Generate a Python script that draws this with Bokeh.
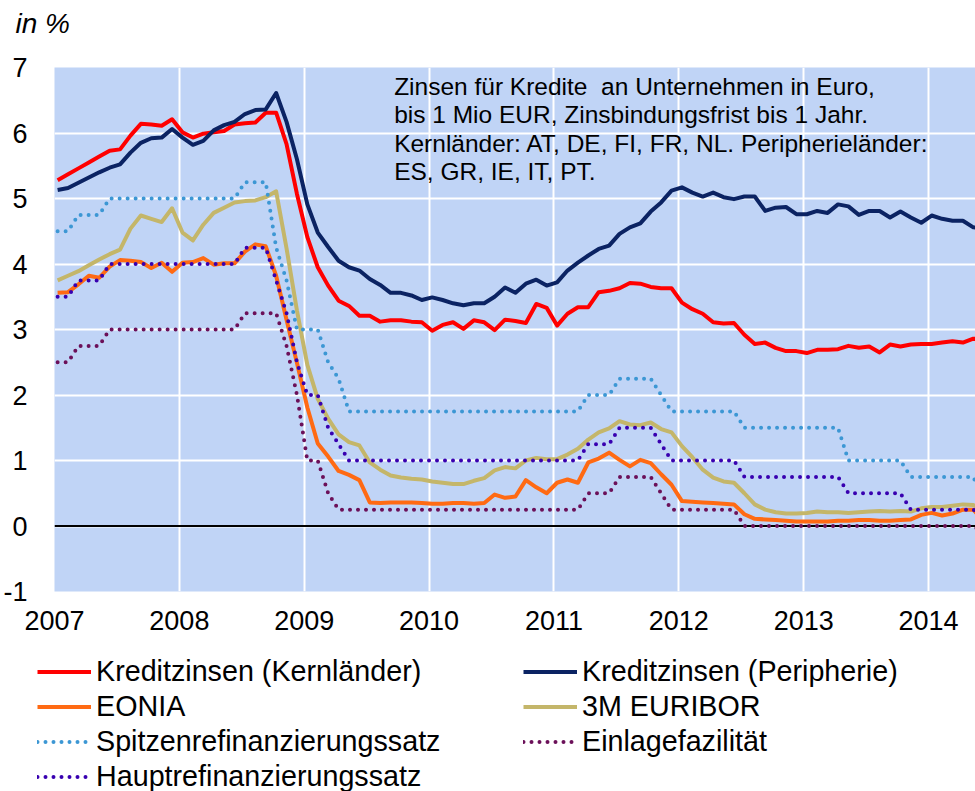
import pandas as pd
from bokeh.plotting import figure
from bokeh.layouts import column
from bokeh.models import (ColumnDataSource, FixedTicker, Span, Legend, LegendItem,
                          Label, Range1d)
from bokeh.embed import file_html
from bokeh.resources import INLINE

# ---------------- data (monthly, Jan 2007 .. Jun 2014) ----------------
months = pd.date_range("2007-01-01", "2014-06-01", freq="MS")

kern = [5.28, 5.37, 5.46, 5.55, 5.64, 5.73, 5.75, 5.96, 6.14, 6.13, 6.11, 6.21,
        6.01, 5.93, 5.99, 6.01, 6.03, 6.13, 6.15, 6.16, 6.31, 6.31, 5.83, 5.07,
        4.41, 3.95, 3.67, 3.44, 3.36, 3.21, 3.21, 3.12, 3.14, 3.14, 3.12, 3.11,
        2.98, 3.07, 3.11, 3.01, 3.14, 3.11, 2.99, 3.15, 3.13, 3.10, 3.39, 3.33,
        3.06, 3.24, 3.34, 3.34, 3.57, 3.59, 3.63, 3.71, 3.70, 3.65, 3.63, 3.63,
        3.41, 3.31, 3.24, 3.11, 3.09, 3.10, 2.92, 2.78, 2.80, 2.72, 2.67, 2.67,
        2.64, 2.69, 2.69, 2.70, 2.75, 2.72, 2.74, 2.65, 2.77, 2.74, 2.77, 2.78,
        2.78, 2.80, 2.82, 2.80, 2.86, 2.84]

peri = [5.13, 5.16, 5.24, 5.32, 5.40, 5.47, 5.52, 5.70, 5.85, 5.92, 5.93, 6.06,
        5.93, 5.82, 5.88, 6.04, 6.12, 6.17, 6.29, 6.35, 6.36, 6.61, 6.17, 5.60,
        4.91, 4.48, 4.26, 4.05, 3.95, 3.90, 3.77, 3.68, 3.56, 3.56, 3.52, 3.45,
        3.49, 3.45, 3.40, 3.37, 3.40, 3.40, 3.50, 3.64, 3.56, 3.70, 3.76, 3.67,
        3.72, 3.90, 4.02, 4.13, 4.23, 4.28, 4.46, 4.56, 4.62, 4.80, 4.94, 5.12,
        5.17, 5.09, 5.03, 5.09, 5.02, 4.99, 5.03, 5.03, 4.81, 4.86, 4.87, 4.76,
        4.76, 4.81, 4.78, 4.91, 4.88, 4.75, 4.81, 4.81, 4.71, 4.80, 4.71, 4.63,
        4.74, 4.69, 4.66, 4.66, 4.56, 4.55]

eonia = [3.56, 3.57, 3.69, 3.82, 3.79, 3.96, 4.06, 4.05, 4.03, 3.94, 4.02, 3.88,
         4.02, 4.03, 4.09, 3.99, 4.01, 4.01, 4.19, 4.30, 4.27, 3.82, 3.15, 2.49,
         1.81, 1.26, 1.06, 0.84, 0.78, 0.70, 0.36, 0.35, 0.36, 0.36, 0.36, 0.35,
         0.34, 0.34, 0.35, 0.35, 0.34, 0.35, 0.48, 0.43, 0.45, 0.70, 0.59, 0.50,
         0.66, 0.71, 0.66, 0.97, 1.03, 1.12, 1.01, 0.91, 1.01, 0.96, 0.79, 0.63,
         0.38, 0.37, 0.36, 0.35, 0.34, 0.33, 0.18, 0.11, 0.10, 0.09, 0.08, 0.07,
         0.07, 0.07, 0.07, 0.08, 0.08, 0.09, 0.09, 0.08, 0.08, 0.09, 0.10, 0.17,
         0.20, 0.16, 0.19, 0.25, 0.25, 0.08]

euribor = [3.75, 3.82, 3.89, 3.98, 4.07, 4.15, 4.22, 4.54, 4.74, 4.69, 4.64, 4.85,
           4.48, 4.36, 4.60, 4.78, 4.86, 4.94, 4.96, 4.97, 5.02, 5.11, 4.24, 3.29,
           2.46, 1.94, 1.64, 1.40, 1.28, 1.23, 0.97, 0.86, 0.77, 0.74, 0.72, 0.71,
           0.68, 0.66, 0.64, 0.64, 0.69, 0.73, 0.85, 0.90, 0.88, 1.00, 1.04, 1.02,
           1.02, 1.09, 1.18, 1.32, 1.43, 1.49, 1.60, 1.55, 1.54, 1.58, 1.48, 1.43,
           1.22, 1.05, 0.86, 0.74, 0.68, 0.66, 0.50, 0.33, 0.25, 0.21, 0.19, 0.19,
           0.20, 0.22, 0.21, 0.21, 0.20, 0.21, 0.22, 0.23, 0.22, 0.23, 0.22, 0.27,
           0.29, 0.29, 0.31, 0.33, 0.32, 0.24]

spitzen = [4.50, 4.50, 4.75, 4.75, 4.75, 5.00, 5.00, 5.00, 5.00, 5.00, 5.00, 5.00,
           5.00, 5.00, 5.00, 5.00, 5.00, 5.00, 5.25, 5.25, 5.25, 4.25, 3.75, 3.00,
           3.00, 3.00, 2.50, 2.25, 1.75, 1.75, 1.75, 1.75, 1.75, 1.75, 1.75, 1.75,
           1.75, 1.75, 1.75, 1.75, 1.75, 1.75, 1.75, 1.75, 1.75, 1.75, 1.75, 1.75,
           1.75, 1.75, 1.75, 2.00, 2.00, 2.00, 2.25, 2.25, 2.25, 2.25, 2.00, 1.75,
           1.75, 1.75, 1.75, 1.75, 1.75, 1.75, 1.50, 1.50, 1.50, 1.50, 1.50, 1.50,
           1.50, 1.50, 1.50, 1.50, 1.00, 1.00, 1.00, 1.00, 1.00, 1.00, 0.75, 0.75,
           0.75, 0.75, 0.75, 0.75, 0.75, 0.40]

einlage = [2.50, 2.50, 2.75, 2.75, 2.75, 3.00, 3.00, 3.00, 3.00, 3.00, 3.00, 3.00,
           3.00, 3.00, 3.00, 3.00, 3.00, 3.00, 3.25, 3.25, 3.25, 3.25, 2.75, 2.00,
           1.00, 1.00, 0.50, 0.25, 0.25, 0.25, 0.25, 0.25, 0.25, 0.25, 0.25, 0.25,
           0.25, 0.25, 0.25, 0.25, 0.25, 0.25, 0.25, 0.25, 0.25, 0.25, 0.25, 0.25,
           0.25, 0.25, 0.25, 0.50, 0.50, 0.50, 0.75, 0.75, 0.75, 0.75, 0.50, 0.25,
           0.25, 0.25, 0.25, 0.25, 0.25, 0.25, 0.00, 0.00, 0.00, 0.00, 0.00, 0.00,
           0.00, 0.00, 0.00, 0.00, 0.00, 0.00, 0.00, 0.00, 0.00, 0.00, 0.00, 0.00,
           0.00, 0.00, 0.00, 0.00, 0.00, -0.10]

haupt = [3.50, 3.50, 3.75, 3.75, 3.75, 4.00, 4.00, 4.00, 4.00, 4.00, 4.00, 4.00,
         4.00, 4.00, 4.00, 4.00, 4.00, 4.00, 4.25, 4.25, 4.25, 3.75, 3.25, 2.50,
         2.00, 2.00, 1.50, 1.25, 1.00, 1.00, 1.00, 1.00, 1.00, 1.00, 1.00, 1.00,
         1.00, 1.00, 1.00, 1.00, 1.00, 1.00, 1.00, 1.00, 1.00, 1.00, 1.00, 1.00,
         1.00, 1.00, 1.00, 1.25, 1.25, 1.25, 1.50, 1.50, 1.50, 1.50, 1.25, 1.00,
         1.00, 1.00, 1.00, 1.00, 1.00, 1.00, 0.75, 0.75, 0.75, 0.75, 0.75, 0.75,
         0.75, 0.75, 0.75, 0.75, 0.50, 0.50, 0.50, 0.50, 0.50, 0.50, 0.25, 0.25,
         0.25, 0.25, 0.25, 0.25, 0.25, 0.15]

year_ticks = [2007, 2008, 2009, 2010, 2011, 2012, 2013, 2014]
y_ticks = [-1, 0, 1, 2, 3, 4, 5, 6, 7]

series_names = ["Kreditzinsen (Kernländer)", "Kreditzinsen (Peripherie)", "EONIA",
                "3M EURIBOR", "Spitzenrefinanzierungssatz", "Einlagefazilität",
                "Hauptrefinanzierungssatz"]

note_lines = ["Zinsen für Kredite\u00a0 an Unternehmen in Euro,",
              "bis 1 Mio EUR, Zinsbindungsfrist bis 1 Jahr.",
              "Kernländer: AT, DE, FI, FR, NL. Peripherieländer:",
              "ES, GR, IE, IT, PT."]
unit_text = "in %"

# ---------------- common ----------------
FONT = "Liberation Sans"
W = 975
x = [d.year + (d.month - 1 + 0.3) / 12 for d in months]
src = ColumnDataSource(dict(x=x, kern=kern, peri=peri, eonia=eonia, euribor=euribor,
                            spitzen=spitzen, einlage=einlage, haupt=haupt))

styles = [
    ("kern", "#FF0000", None),
    ("peri", "#0B2363", None),
    ("eonia", "#FF6A13", None),
    ("euribor", "#C4B66A", None),
    ("spitzen", "#3C97D4", "0 8"),
    ("einlage", "#6B1059", "0 8"),
    ("haupt", "#3800B0", "0 8"),
]


def draw_series(fig):
    out = {}
    for col, color, dash in styles:
        if dash is None:
            out[col] = fig.line("x", col, source=src, line_color=color, line_width=4,
                                line_join="round")
        else:
            out[col] = fig.line("x", col, source=src, line_color=color, line_width=4,
                                line_dash=dash, line_cap="round")
    return out


def blank_fig(h):
    f = figure(width=W, height=h, output_backend="svg", toolbar_location=None,
               x_range=Range1d(0, W), y_range=Range1d(0, h),
               x_axis_location=None, y_axis_location=None, min_border=0)
    f.outline_line_color = None
    f.grid.grid_line_color = None
    f.background_fill_color = "white"
    f.border_fill_color = "white"
    f.frame_align = False
    return f


# ---------------- header ("in %") ----------------
HH = 50
ph = blank_fig(HH)
ph.add_layout(Label(x=15, y=HH - 22.5, text=unit_text, text_font=FONT,
                    text_font_size="28px", text_font_style="italic",
                    text_color="black", text_baseline="alphabetic"))

# ---------------- main figure ----------------
p = figure(width=W, height=600, output_backend="svg", toolbar_location=None,
           x_range=Range1d(2007, 2014.376), y_range=Range1d(-1, 7),
           min_border_left=53, min_border_right=0, min_border_top=17,
           min_border_bottom=59)
p.background_fill_color = "#C0D4F6"
p.border_fill_color = "white"
p.outline_line_color = None

p.xaxis.ticker = FixedTicker(ticks=year_ticks)
p.yaxis.ticker = FixedTicker(ticks=y_ticks)
p.xgrid.ticker = FixedTicker(ticks=year_ticks)
p.ygrid.ticker = FixedTicker(ticks=y_ticks)
p.yaxis.major_label_overrides = {-1: "-1"}
p.grid.grid_line_color = "white"
p.grid.grid_line_width = 2
for ax in (p.xaxis, p.yaxis):
    ax.axis_line_color = None
    ax.major_tick_line_color = None
    ax.minor_tick_line_color = None
    ax.major_tick_out = 0
    ax.major_tick_in = 0
    ax.major_label_text_font = FONT
    ax.major_label_text_font_size = "27px"
    ax.major_label_text_color = "black"
p.xaxis.major_label_standoff = 19
p.yaxis.major_label_standoff = 27

p.add_layout(Span(location=0, dimension="width", line_color="black",
                  line_width=2, level="underlay"))
draw_series(p)

note_y = [6.707, 6.275, 5.842, 5.409]
for txt, yy in zip(note_lines, note_y):
    p.add_layout(Label(x=2009.72, y=yy, text=txt, text_font=FONT,
                       text_font_size="24.5px", text_color="black",
                       text_baseline="alphabetic", text_align="left"))

# ---------------- legend figure ----------------
pl = blank_fig(141)
proxy = draw_series(pl)      # series lie outside this figure's range; used for the key only
name_of = dict(zip([s[0] for s in styles], series_names))


def make_legend(keys, loc):
    return Legend(items=[LegendItem(label=name_of[k], renderers=[proxy[k]]) for k in keys],
                  location=loc, orientation="vertical", glyph_width=54, glyph_height=35,
                  label_height=35, label_standoff=5, spacing=0, padding=0, margin=0,
                  border_line_color=None, background_fill_alpha=0,
                  label_text_font=FONT, label_text_font_size="28.7px",
                  label_text_color="black")


pl.add_layout(make_legend(["kern", "eonia", "spitzen", "haupt"], (37, -3)))
pl.add_layout(make_legend(["peri", "euribor", "einlage"], (523, 32)))

open("out.html", "w").write(file_html(column(ph, p, pl, spacing=0), INLINE))
